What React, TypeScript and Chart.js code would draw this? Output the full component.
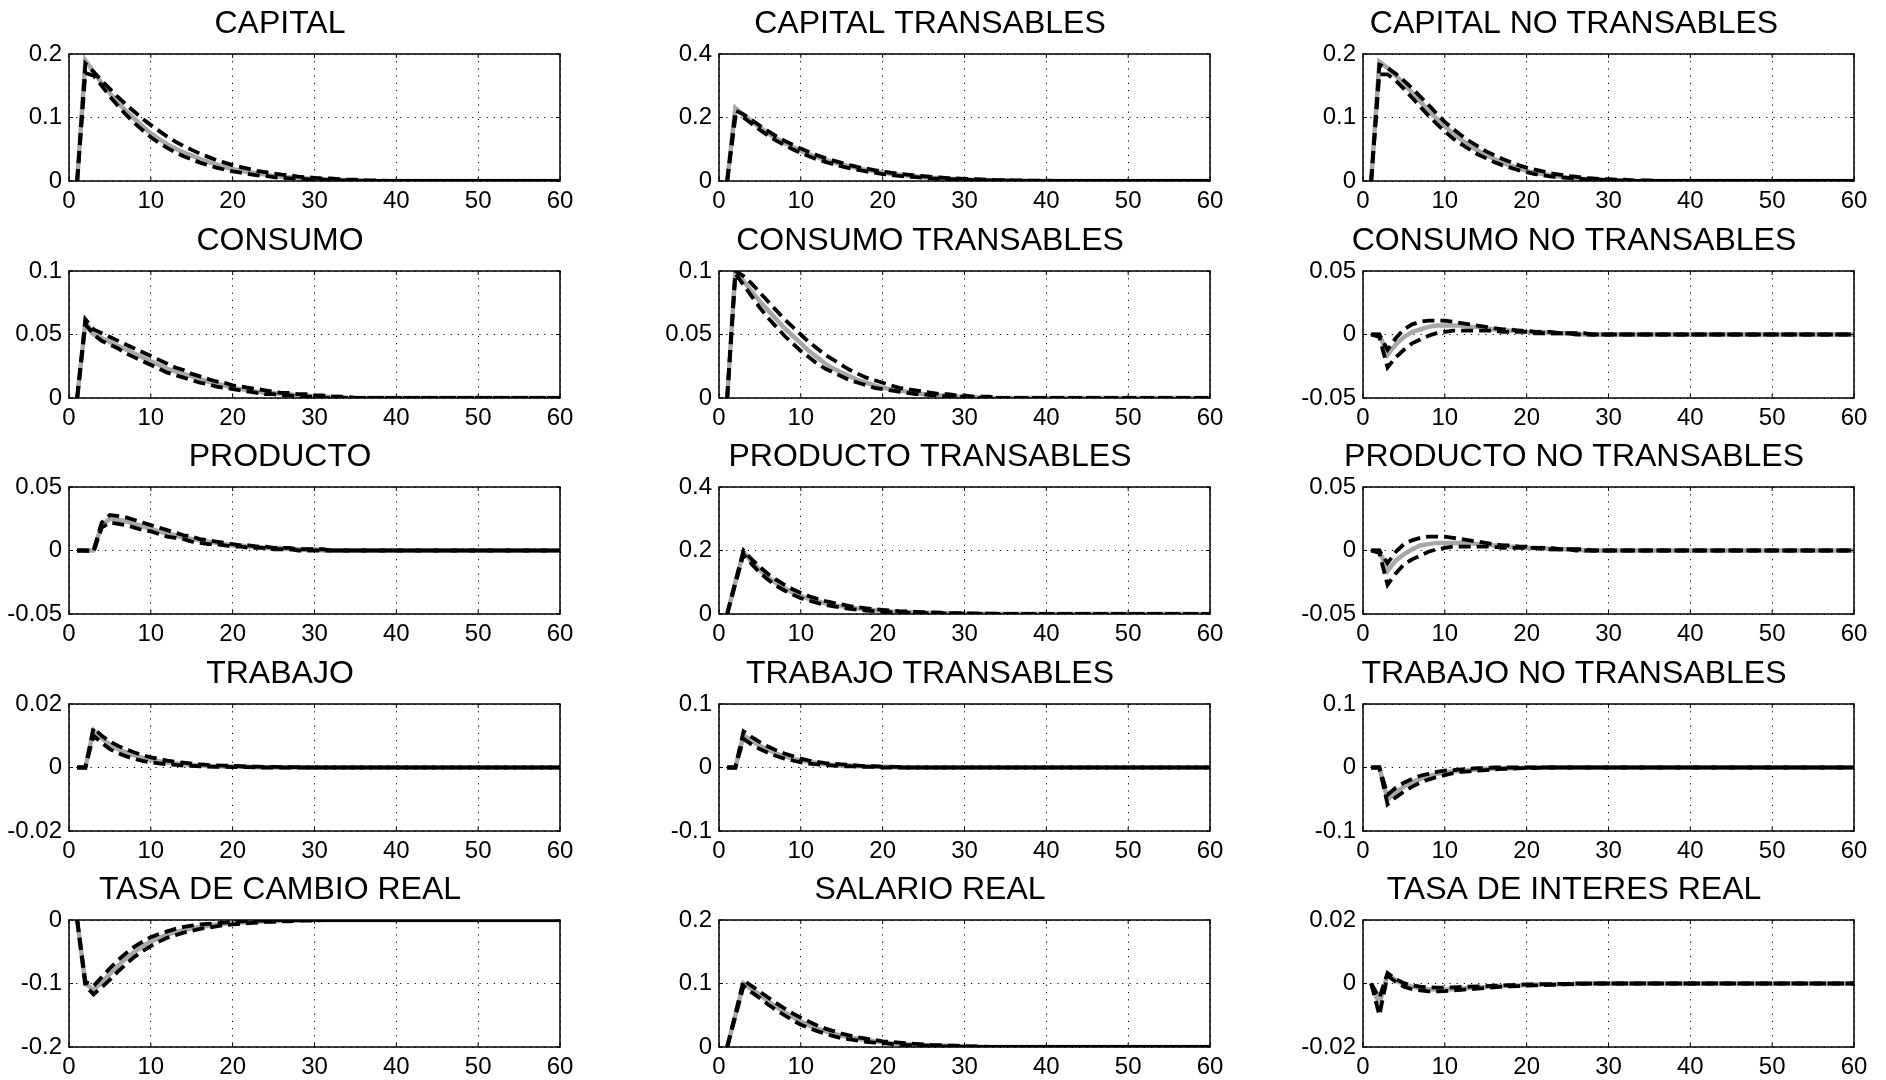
import React, { useEffect, useRef } from "react";
import { Chart, registerables } from "chart.js";

Chart.register(...registerables);

// ---------- DATA ----------
const PERIODS = [
  1, 2, 3, 4, 5, 6, 7, 8, 9, 10,
  11, 12, 13, 14, 15, 16, 17, 18, 19, 20,
  21, 22, 23, 24, 25, 26, 27, 28, 29, 30,
  31, 32, 33, 34, 35, 36, 37, 38, 39, 40,
  41, 42, 43, 44, 45, 46, 47, 48, 49, 50,
  51, 52, 53, 54, 55, 56, 57, 58, 59, 60,
];
const X_TICKS = [0, 10, 20, 30, 40, 50, 60];

// CAPITAL
const CAPITAL_Y = [0, 0.1, 0.2];
const CAPITAL_GRAY = [
  0, 0.190, 0.172, 0.154, 0.138, 0.123, 0.110, 0.098, 0.086, 0.075,
  0.066, 0.058, 0.051, 0.045, 0.040, 0.035, 0.030, 0.026, 0.022, 0.019,
  0.016, 0.014, 0.012, 0.010, 0.008, 0.007, 0.006, 0.005, 0.004, 0.003,
  0.003, 0.002, 0.002, 0.001, 0.001, 0.001, 0, 0, 0, 0,
  0, 0, 0, 0, 0, 0, 0, 0, 0, 0,
  0, 0, 0, 0, 0, 0, 0, 0, 0, 0,
];
const CAPITAL_UP = [
  0, 0.185, 0.172, 0.158, 0.145, 0.132, 0.120, 0.109, 0.098, 0.088,
  0.079, 0.070, 0.062, 0.055, 0.049, 0.043, 0.038, 0.033, 0.029, 0.025,
  0.022, 0.019, 0.016, 0.014, 0.012, 0.010, 0.009, 0.007, 0.006, 0.005,
  0.004, 0.004, 0.003, 0.002, 0.002, 0.001, 0.001, 0.001, 0, 0,
  0, 0, 0, 0, 0, 0, 0, 0, 0, 0,
  0, 0, 0, 0, 0, 0, 0, 0, 0, 0,
];
const CAPITAL_LO = [
  0, 0.170, 0.166, 0.150, 0.133, 0.118, 0.104, 0.091, 0.080, 0.069,
  0.060, 0.052, 0.045, 0.039, 0.034, 0.029, 0.025, 0.021, 0.018, 0.015,
  0.013, 0.011, 0.009, 0.008, 0.006, 0.005, 0.004, 0.004, 0.003, 0.002,
  0.002, 0.001, 0.001, 0.001, 0, 0, 0, 0, 0, 0,
  0, 0, 0, 0, 0, 0, 0, 0, 0, 0,
  0, 0, 0, 0, 0, 0, 0, 0, 0, 0,
];

// CAPITAL TRANSABLES
const CAP_T_Y = [0, 0.2, 0.4];
const CAP_T_GRAY = [
  0, 0.230, 0.208, 0.188, 0.168, 0.150, 0.134, 0.120, 0.107, 0.095,
  0.084, 0.075, 0.066, 0.059, 0.052, 0.046, 0.040, 0.035, 0.031, 0.027,
  0.023, 0.020, 0.017, 0.015, 0.012, 0.010, 0.009, 0.007, 0.006, 0.005,
  0.004, 0.003, 0.003, 0.002, 0.002, 0.001, 0.001, 0.001, 0, 0,
  0, 0, 0, 0, 0, 0, 0, 0, 0, 0,
  0, 0, 0, 0, 0, 0, 0, 0, 0, 0,
];
const CAP_T_UP = [
  0, 0.222, 0.210, 0.192, 0.174, 0.157, 0.141, 0.127, 0.114, 0.102,
  0.091, 0.081, 0.072, 0.064, 0.057, 0.050, 0.044, 0.039, 0.034, 0.030,
  0.026, 0.023, 0.020, 0.017, 0.015, 0.013, 0.011, 0.009, 0.008, 0.007,
  0.006, 0.005, 0.004, 0.003, 0.003, 0.002, 0.002, 0.001, 0.001, 0.001,
  0, 0, 0, 0, 0, 0, 0, 0, 0, 0,
  0, 0, 0, 0, 0, 0, 0, 0, 0, 0,
];
const CAP_T_LO = [
  0, 0.200, 0.200, 0.180, 0.161, 0.143, 0.127, 0.113, 0.100, 0.088,
  0.078, 0.068, 0.060, 0.053, 0.046, 0.040, 0.035, 0.030, 0.026, 0.022,
  0.019, 0.016, 0.014, 0.012, 0.010, 0.008, 0.007, 0.006, 0.005, 0.004,
  0.003, 0.002, 0.002, 0.001, 0.001, 0.001, 0, 0, 0, 0,
  0, 0, 0, 0, 0, 0, 0, 0, 0, 0,
  0, 0, 0, 0, 0, 0, 0, 0, 0, 0,
];

// CAPITAL NO TRANSABLES
const CAP_NT_Y = [0, 0.1, 0.2];
const CAP_NT_GRAY = [
  0, 0.188, 0.178, 0.166, 0.153, 0.139, 0.125, 0.111, 0.098, 0.086,
  0.075, 0.065, 0.056, 0.048, 0.041, 0.035, 0.029, 0.024, 0.020, 0.016,
  0.013, 0.011, 0.009, 0.007, 0.005, 0.004, 0.003, 0.003, 0.002, 0.001,
  0.001, 0.001, 0, 0, 0, 0, 0, 0, 0, 0,
  0, 0, 0, 0, 0, 0, 0, 0, 0, 0,
  0, 0, 0, 0, 0, 0, 0, 0, 0, 0,
];
const CAP_NT_UP = [
  0, 0.183, 0.178, 0.169, 0.158, 0.146, 0.133, 0.120, 0.106, 0.093,
  0.082, 0.072, 0.063, 0.055, 0.047, 0.041, 0.035, 0.030, 0.025, 0.021,
  0.018, 0.015, 0.012, 0.010, 0.008, 0.007, 0.005, 0.004, 0.003, 0.003,
  0.002, 0.002, 0.001, 0.001, 0.001, 0, 0, 0, 0, 0,
  0, 0, 0, 0, 0, 0, 0, 0, 0, 0,
  0, 0, 0, 0, 0, 0, 0, 0, 0, 0,
];
const CAP_NT_LO = [
  0, 0.168, 0.168, 0.158, 0.145, 0.131, 0.117, 0.103, 0.090, 0.078,
  0.067, 0.058, 0.050, 0.042, 0.036, 0.030, 0.025, 0.021, 0.017, 0.014,
  0.011, 0.009, 0.007, 0.006, 0.005, 0.004, 0.003, 0.002, 0.002, 0.001,
  0.001, 0, 0, 0, 0, 0, 0, 0, 0, 0,
  0, 0, 0, 0, 0, 0, 0, 0, 0, 0,
  0, 0, 0, 0, 0, 0, 0, 0, 0, 0,
];

// CONSUMO
const CONS_Y = [0, 0.05, 0.1];
const CONS_GRAY = [
  0, 0.060, 0.050, 0.047, 0.044, 0.041, 0.038, 0.035, 0.032, 0.029,
  0.026, 0.023, 0.021, 0.019, 0.017, 0.015, 0.013, 0.011, 0.010, 0.008,
  0.007, 0.006, 0.005, 0.004, 0.004, 0.003, 0.003, 0.002, 0.002, 0.001,
  0.001, 0.001, 0.001, 0, 0, 0, 0, 0, 0, 0,
  0, 0, 0, 0, 0, 0, 0, 0, 0, 0,
  0, 0, 0, 0, 0, 0, 0, 0, 0, 0,
];
const CONS_UP = [
  0, 0.062, 0.054, 0.051, 0.048, 0.045, 0.042, 0.039, 0.036, 0.033,
  0.030, 0.027, 0.024, 0.022, 0.019, 0.017, 0.015, 0.013, 0.012, 0.010,
  0.009, 0.008, 0.007, 0.006, 0.005, 0.004, 0.004, 0.003, 0.003, 0.002,
  0.002, 0.001, 0.001, 0.001, 0, 0, 0, 0, 0, 0,
  0, 0, 0, 0, 0, 0, 0, 0, 0, 0,
  0, 0, 0, 0, 0, 0, 0, 0, 0, 0,
];
const CONS_LO = [
  0, 0.058, 0.050, 0.045, 0.042, 0.039, 0.035, 0.032, 0.029, 0.026,
  0.023, 0.020, 0.018, 0.016, 0.014, 0.012, 0.011, 0.009, 0.008, 0.007,
  0.006, 0.005, 0.004, 0.003, 0.003, 0.002, 0.002, 0.001, 0.001, 0.001,
  0, 0, 0, 0, 0, 0, 0, 0, 0, 0,
  0, 0, 0, 0, 0, 0, 0, 0, 0, 0,
  0, 0, 0, 0, 0, 0, 0, 0, 0, 0,
];

// CONSUMO TRANSABLES
const CONS_T_Y = [0, 0.05, 0.1];
const CONS_T_GRAY = [
  0, 0.100, 0.092, 0.084, 0.076, 0.069, 0.062, 0.055, 0.049, 0.043,
  0.037, 0.032, 0.027, 0.023, 0.020, 0.017, 0.014, 0.012, 0.010, 0.008,
  0.007, 0.006, 0.005, 0.004, 0.003, 0.003, 0.002, 0.002, 0.001, 0.001,
  0.001, 0, 0, 0, 0, 0, 0, 0, 0, 0,
  0, 0, 0, 0, 0, 0, 0, 0, 0, 0,
  0, 0, 0, 0, 0, 0, 0, 0, 0, 0,
];
const CONS_T_UP = [
  0, 0.100, 0.096, 0.090, 0.083, 0.076, 0.069, 0.062, 0.056, 0.050,
  0.044, 0.039, 0.034, 0.030, 0.026, 0.022, 0.019, 0.016, 0.014, 0.012,
  0.010, 0.008, 0.007, 0.006, 0.005, 0.004, 0.003, 0.003, 0.002, 0.002,
  0.001, 0.001, 0.001, 0, 0, 0, 0, 0, 0, 0,
  0, 0, 0, 0, 0, 0, 0, 0, 0, 0,
  0, 0, 0, 0, 0, 0, 0, 0, 0, 0,
];
const CONS_T_LO = [
  0, 0.098, 0.089, 0.080, 0.071, 0.063, 0.056, 0.049, 0.043, 0.037,
  0.032, 0.027, 0.023, 0.020, 0.017, 0.014, 0.012, 0.010, 0.008, 0.007,
  0.006, 0.005, 0.004, 0.003, 0.003, 0.002, 0.002, 0.001, 0.001, 0.001,
  0, 0, 0, 0, 0, 0, 0, 0, 0, 0,
  0, 0, 0, 0, 0, 0, 0, 0, 0, 0,
  0, 0, 0, 0, 0, 0, 0, 0, 0, 0,
];

// CONSUMO NO TRANSABLES
const CONS_NT_Y = [-0.05, 0, 0.05];
const CONS_NT_GRAY = [
  0, 0, -0.016, -0.008, -0.002, 0.002, 0.004, 0.006, 0.007, 0.007,
  0.007, 0.007, 0.006, 0.006, 0.005, 0.004, 0.004, 0.003, 0.003, 0.002,
  0.002, 0.002, 0.001, 0.001, 0.001, 0.001, 0, 0, 0, 0,
  0, 0, 0, 0, 0, 0, 0, 0, 0, 0,
  0, 0, 0, 0, 0, 0, 0, 0, 0, 0,
  0, 0, 0, 0, 0, 0, 0, 0, 0, 0,
];
const CONS_NT_UP = [
  0, 0, -0.012, -0.003, 0.004, 0.008, 0.010, 0.011, 0.011, 0.011,
  0.010, 0.009, 0.008, 0.007, 0.006, 0.005, 0.004, 0.004, 0.003, 0.003,
  0.002, 0.002, 0.002, 0.001, 0.001, 0.001, 0.001, 0, 0, 0,
  0, 0, 0, 0, 0, 0, 0, 0, 0, 0,
  0, 0, 0, 0, 0, 0, 0, 0, 0, 0,
  0, 0, 0, 0, 0, 0, 0, 0, 0, 0,
];
const CONS_NT_LO = [
  0, -0.002, -0.026, -0.018, -0.012, -0.007, -0.004, -0.001, 0.001, 0.002,
  0.003, 0.003, 0.003, 0.003, 0.003, 0.003, 0.002, 0.002, 0.002, 0.002,
  0.001, 0.001, 0.001, 0.001, 0.001, 0, 0, 0, 0, 0,
  0, 0, 0, 0, 0, 0, 0, 0, 0, 0,
  0, 0, 0, 0, 0, 0, 0, 0, 0, 0,
  0, 0, 0, 0, 0, 0, 0, 0, 0, 0,
];

// PRODUCTO
const PROD_Y = [-0.05, 0, 0.05];
const PROD_GRAY = [
  0, 0, 0, 0.020, 0.025, 0.024, 0.023, 0.021, 0.019, 0.017,
  0.015, 0.013, 0.012, 0.010, 0.009, 0.008, 0.007, 0.006, 0.005, 0.004,
  0.004, 0.003, 0.003, 0.002, 0.002, 0.002, 0.001, 0.001, 0.001, 0.001,
  0, 0, 0, 0, 0, 0, 0, 0, 0, 0,
  0, 0, 0, 0, 0, 0, 0, 0, 0, 0,
  0, 0, 0, 0, 0, 0, 0, 0, 0, 0,
];
const PROD_UP = [
  0, 0, 0, 0.022, 0.028, 0.027, 0.026, 0.024, 0.022, 0.020,
  0.018, 0.016, 0.014, 0.012, 0.011, 0.009, 0.008, 0.007, 0.006, 0.005,
  0.004, 0.004, 0.003, 0.003, 0.002, 0.002, 0.002, 0.001, 0.001, 0.001,
  0.001, 0, 0, 0, 0, 0, 0, 0, 0, 0,
  0, 0, 0, 0, 0, 0, 0, 0, 0, 0,
  0, 0, 0, 0, 0, 0, 0, 0, 0, 0,
];
const PROD_LO = [
  0, 0, -0.001, 0.018, 0.022, 0.021, 0.020, 0.018, 0.016, 0.015,
  0.013, 0.011, 0.010, 0.009, 0.007, 0.006, 0.005, 0.005, 0.004, 0.003,
  0.003, 0.002, 0.002, 0.002, 0.001, 0.001, 0.001, 0, 0, 0,
  0, 0, 0, 0, 0, 0, 0, 0, 0, 0,
  0, 0, 0, 0, 0, 0, 0, 0, 0, 0,
  0, 0, 0, 0, 0, 0, 0, 0, 0, 0,
];

// PRODUCTO TRANSABLES
const PROD_T_Y = [0, 0.2, 0.4];
const PROD_T_GRAY = [
  0, 0.100, 0.195, 0.164, 0.138, 0.115, 0.097, 0.081, 0.068, 0.057,
  0.048, 0.040, 0.034, 0.028, 0.024, 0.020, 0.017, 0.014, 0.012, 0.010,
  0.008, 0.007, 0.006, 0.005, 0.004, 0.003, 0.003, 0.002, 0.002, 0.001,
  0.001, 0.001, 0, 0, 0, 0, 0, 0, 0, 0,
  0, 0, 0, 0, 0, 0, 0, 0, 0, 0,
  0, 0, 0, 0, 0, 0, 0, 0, 0, 0,
];
const PROD_T_UP = [
  0, 0.102, 0.200, 0.172, 0.148, 0.126, 0.108, 0.092, 0.078, 0.066,
  0.056, 0.048, 0.041, 0.035, 0.030, 0.025, 0.021, 0.018, 0.015, 0.013,
  0.011, 0.009, 0.008, 0.007, 0.006, 0.005, 0.004, 0.003, 0.003, 0.002,
  0.002, 0.001, 0.001, 0.001, 0, 0, 0, 0, 0, 0,
  0, 0, 0, 0, 0, 0, 0, 0, 0, 0,
  0, 0, 0, 0, 0, 0, 0, 0, 0, 0,
];
const PROD_T_LO = [
  0, 0.095, 0.188, 0.157, 0.130, 0.108, 0.089, 0.074, 0.061, 0.050,
  0.042, 0.035, 0.029, 0.024, 0.020, 0.016, 0.013, 0.011, 0.009, 0.007,
  0.006, 0.005, 0.004, 0.003, 0.003, 0.002, 0.002, 0.001, 0.001, 0.001,
  0, 0, 0, 0, 0, 0, 0, 0, 0, 0,
  0, 0, 0, 0, 0, 0, 0, 0, 0, 0,
  0, 0, 0, 0, 0, 0, 0, 0, 0, 0,
];

// PRODUCTO NO TRANSABLES
const PROD_NT_Y = [-0.05, 0, 0.05];
const PROD_NT_GRAY = [
  0, 0, -0.016, -0.008, -0.003, 0.001, 0.004, 0.005, 0.006, 0.006,
  0.006, 0.006, 0.006, 0.005, 0.005, 0.004, 0.004, 0.003, 0.003, 0.002,
  0.002, 0.002, 0.001, 0.001, 0.001, 0.001, 0, 0, 0, 0,
  0, 0, 0, 0, 0, 0, 0, 0, 0, 0,
  0, 0, 0, 0, 0, 0, 0, 0, 0, 0,
  0, 0, 0, 0, 0, 0, 0, 0, 0, 0,
];
const PROD_NT_UP = [
  0, 0, -0.010, -0.001, 0.005, 0.008, 0.010, 0.011, 0.011, 0.011,
  0.010, 0.009, 0.008, 0.007, 0.006, 0.005, 0.004, 0.004, 0.003, 0.003,
  0.002, 0.002, 0.002, 0.001, 0.001, 0.001, 0.001, 0, 0, 0,
  0, 0, 0, 0, 0, 0, 0, 0, 0, 0,
  0, 0, 0, 0, 0, 0, 0, 0, 0, 0,
  0, 0, 0, 0, 0, 0, 0, 0, 0, 0,
];
const PROD_NT_LO = [
  0, -0.002, -0.027, -0.018, -0.011, -0.007, -0.004, -0.001, 0.001, 0.002,
  0.003, 0.003, 0.003, 0.003, 0.003, 0.003, 0.002, 0.002, 0.002, 0.002,
  0.002, 0.001, 0.001, 0.001, 0.001, 0, 0, 0, 0, 0,
  0, 0, 0, 0, 0, 0, 0, 0, 0, 0,
  0, 0, 0, 0, 0, 0, 0, 0, 0, 0,
  0, 0, 0, 0, 0, 0, 0, 0, 0, 0,
];

// TRABAJO
const TRAB_Y = [-0.02, 0, 0.02];
const TRAB_GRAY = [
  0, 0, 0.0117, 0.0092, 0.0072, 0.0058, 0.0047, 0.0038, 0.0030, 0.0024,
  0.0020, 0.0016, 0.0013, 0.0010, 0.0008, 0.0007, 0.0005, 0.0004, 0.0003, 0.0003,
  0.0002, 0.0002, 0.0001, 0.0001, 0.0001, 0, 0, 0, 0, 0,
  0, 0, 0, 0, 0, 0, 0, 0, 0, 0,
  0, 0, 0, 0, 0, 0, 0, 0, 0, 0,
  0, 0, 0, 0, 0, 0, 0, 0, 0, 0,
];
const TRAB_UP = [
  0, 0, 0.0125, 0.0100, 0.0082, 0.0068, 0.0057, 0.0047, 0.0039, 0.0032,
  0.0027, 0.0022, 0.0018, 0.0015, 0.0012, 0.0010, 0.0008, 0.0007, 0.0006, 0.0005,
  0.0004, 0.0003, 0.0003, 0.0002, 0.0002, 0.0001, 0.0001, 0.0001, 0, 0,
  0, 0, 0, 0, 0, 0, 0, 0, 0, 0,
  0, 0, 0, 0, 0, 0, 0, 0, 0, 0,
  0, 0, 0, 0, 0, 0, 0, 0, 0, 0,
];
const TRAB_LO = [
  0, 0, 0.0100, 0.0078, 0.0058, 0.0045, 0.0035, 0.0027, 0.0021, 0.0016,
  0.0013, 0.0010, 0.0008, 0.0006, 0.0005, 0.0004, 0.0003, 0.0002, 0.0002, 0.0001,
  0.0001, 0.0001, 0, 0, 0, 0, 0, 0, 0, 0,
  0, 0, 0, 0, 0, 0, 0, 0, 0, 0,
  0, 0, 0, 0, 0, 0, 0, 0, 0, 0,
  0, 0, 0, 0, 0, 0, 0, 0, 0, 0,
];

// TRABAJO TRANSABLES
const TRAB_T_Y = [-0.1, 0, 0.1];
const TRAB_T_GRAY = [
  0, 0, 0.051, 0.042, 0.034, 0.028, 0.022, 0.018, 0.014, 0.011,
  0.009, 0.007, 0.005, 0.004, 0.003, 0.003, 0.002, 0.002, 0.001, 0.001,
  0.001, 0, 0, 0, 0, 0, 0, 0, 0, 0,
  0, 0, 0, 0, 0, 0, 0, 0, 0, 0,
  0, 0, 0, 0, 0, 0, 0, 0, 0, 0,
  0, 0, 0, 0, 0, 0, 0, 0, 0, 0,
];
const TRAB_T_UP = [
  0, 0, 0.057, 0.048, 0.040, 0.033, 0.027, 0.022, 0.018, 0.014,
  0.011, 0.009, 0.007, 0.006, 0.005, 0.004, 0.003, 0.002, 0.002, 0.001,
  0.001, 0.001, 0, 0, 0, 0, 0, 0, 0, 0,
  0, 0, 0, 0, 0, 0, 0, 0, 0, 0,
  0, 0, 0, 0, 0, 0, 0, 0, 0, 0,
  0, 0, 0, 0, 0, 0, 0, 0, 0, 0,
];
const TRAB_T_LO = [
  0, 0, 0.045, 0.036, 0.029, 0.023, 0.018, 0.014, 0.011, 0.008,
  0.006, 0.005, 0.004, 0.003, 0.002, 0.002, 0.001, 0.001, 0.001, 0,
  0, 0, 0, 0, 0, 0, 0, 0, 0, 0,
  0, 0, 0, 0, 0, 0, 0, 0, 0, 0,
  0, 0, 0, 0, 0, 0, 0, 0, 0, 0,
  0, 0, 0, 0, 0, 0, 0, 0, 0, 0,
];

// TRABAJO NO TRANSABLES
const TRAB_NT_Y = [-0.1, 0, 0.1];
const TRAB_NT_GRAY = [
  0, 0, -0.050, -0.039, -0.030, -0.023, -0.018, -0.014, -0.010, -0.008,
  -0.006, -0.005, -0.004, -0.003, -0.002, -0.002, -0.001, -0.001, -0.001, 0,
  0, 0, 0, 0, 0, 0, 0, 0, 0, 0,
  0, 0, 0, 0, 0, 0, 0, 0, 0, 0,
  0, 0, 0, 0, 0, 0, 0, 0, 0, 0,
  0, 0, 0, 0, 0, 0, 0, 0, 0, 0,
];
const TRAB_NT_UP = [
  0, 0, -0.043, -0.032, -0.024, -0.018, -0.013, -0.010, -0.007, -0.005,
  -0.004, -0.003, -0.002, -0.001, -0.001, 0, 0, 0, 0, 0,
  0, 0, 0, 0, 0, 0, 0, 0, 0, 0,
  0, 0, 0, 0, 0, 0, 0, 0, 0, 0,
  0, 0, 0, 0, 0, 0, 0, 0, 0, 0,
  0, 0, 0, 0, 0, 0, 0, 0, 0, 0,
];
const TRAB_NT_LO = [
  0, 0, -0.058, -0.047, -0.038, -0.030, -0.024, -0.019, -0.015, -0.012,
  -0.009, -0.007, -0.006, -0.005, -0.004, -0.003, -0.002, -0.002, -0.001, -0.001,
  -0.001, 0, 0, 0, 0, 0, 0, 0, 0, 0,
  0, 0, 0, 0, 0, 0, 0, 0, 0, 0,
  0, 0, 0, 0, 0, 0, 0, 0, 0, 0,
  0, 0, 0, 0, 0, 0, 0, 0, 0, 0,
];

// TASA DE CAMBIO REAL
const TCR_Y = [-0.2, -0.1, 0];
const TCR_GRAY = [
  0, -0.100, -0.110, -0.098, -0.085, -0.072, -0.060, -0.050, -0.041, -0.034,
  -0.028, -0.023, -0.019, -0.016, -0.013, -0.011, -0.009, -0.007, -0.006, -0.005,
  -0.004, -0.003, -0.003, -0.002, -0.002, -0.001, -0.001, -0.001, 0, 0,
  0, 0, 0, 0, 0, 0, 0, 0, 0, 0,
  0, 0, 0, 0, 0, 0, 0, 0, 0, 0,
  0, 0, 0, 0, 0, 0, 0, 0, 0, 0,
];
const TCR_UP = [
  0, -0.097, -0.104, -0.090, -0.076, -0.063, -0.052, -0.042, -0.034, -0.027,
  -0.022, -0.018, -0.014, -0.011, -0.009, -0.007, -0.006, -0.005, -0.004, -0.003,
  -0.002, -0.002, -0.001, -0.001, 0, 0, 0, 0, 0, 0,
  0, 0, 0, 0, 0, 0, 0, 0, 0, 0,
  0, 0, 0, 0, 0, 0, 0, 0, 0, 0,
  0, 0, 0, 0, 0, 0, 0, 0, 0, 0,
];
const TCR_LO = [
  0, -0.104, -0.117, -0.106, -0.094, -0.081, -0.069, -0.058, -0.049, -0.041,
  -0.034, -0.028, -0.024, -0.020, -0.017, -0.014, -0.012, -0.010, -0.008, -0.007,
  -0.006, -0.005, -0.004, -0.003, -0.003, -0.002, -0.002, -0.001, -0.001, -0.001,
  0, 0, 0, 0, 0, 0, 0, 0, 0, 0,
  0, 0, 0, 0, 0, 0, 0, 0, 0, 0,
  0, 0, 0, 0, 0, 0, 0, 0, 0, 0,
];

// SALARIO REAL
const SAL_Y = [0, 0.1, 0.2];
const SAL_GRAY = [
  0, 0.050, 0.100, 0.091, 0.082, 0.072, 0.063, 0.055, 0.047, 0.040,
  0.034, 0.029, 0.025, 0.021, 0.018, 0.015, 0.013, 0.011, 0.009, 0.008,
  0.006, 0.005, 0.004, 0.004, 0.003, 0.002, 0.002, 0.002, 0.001, 0.001,
  0.001, 0, 0, 0, 0, 0, 0, 0, 0, 0,
  0, 0, 0, 0, 0, 0, 0, 0, 0, 0,
  0, 0, 0, 0, 0, 0, 0, 0, 0, 0,
];
const SAL_UP = [
  0, 0.052, 0.105, 0.096, 0.087, 0.078, 0.069, 0.061, 0.053, 0.046,
  0.040, 0.034, 0.029, 0.025, 0.021, 0.018, 0.015, 0.013, 0.011, 0.009,
  0.008, 0.007, 0.006, 0.005, 0.004, 0.003, 0.003, 0.002, 0.002, 0.001,
  0.001, 0.001, 0, 0, 0, 0, 0, 0, 0, 0,
  0, 0, 0, 0, 0, 0, 0, 0, 0, 0,
  0, 0, 0, 0, 0, 0, 0, 0, 0, 0,
];
const SAL_LO = [
  0, 0.048, 0.096, 0.086, 0.077, 0.067, 0.058, 0.050, 0.042, 0.035,
  0.030, 0.025, 0.021, 0.017, 0.014, 0.012, 0.010, 0.008, 0.007, 0.006,
  0.005, 0.004, 0.003, 0.003, 0.002, 0.002, 0.001, 0.001, 0.001, 0,
  0, 0, 0, 0, 0, 0, 0, 0, 0, 0,
  0, 0, 0, 0, 0, 0, 0, 0, 0, 0,
  0, 0, 0, 0, 0, 0, 0, 0, 0, 0,
];

// TASA DE INTERES REAL
const TIR_Y = [-0.02, 0, 0.02];
const TIR_GRAY = [
  0, -0.0065, 0.0030, 0.0010, -0.0003, -0.0010, -0.0015, -0.0018, -0.0019, -0.0019,
  -0.0018, -0.0016, -0.0014, -0.0012, -0.0011, -0.0009, -0.0008, -0.0007, -0.0006, -0.0005,
  -0.0004, -0.0003, -0.0003, -0.0002, -0.0002, -0.0001, -0.0001, 0, 0, 0,
  0, 0, 0, 0, 0, 0, 0, 0, 0, 0,
  0, 0, 0, 0, 0, 0, 0, 0, 0, 0,
  0, 0, 0, 0, 0, 0, 0, 0, 0, 0,
];
const TIR_UP = [
  0, -0.0045, 0.0033, 0.0014, 0.0001, -0.0006, -0.0010, -0.0012, -0.0013, -0.0013,
  -0.0012, -0.0011, -0.0010, -0.0009, -0.0008, -0.0007, -0.0006, -0.0005, -0.0004, -0.0003,
  -0.0003, -0.0002, -0.0002, -0.0001, -0.0001, 0, 0, 0, 0, 0,
  0, 0, 0, 0, 0, 0, 0, 0, 0, 0,
  0, 0, 0, 0, 0, 0, 0, 0, 0, 0,
  0, 0, 0, 0, 0, 0, 0, 0, 0, 0,
];
const TIR_LO = [
  0, -0.0100, 0.0025, 0.0005, -0.0010, -0.0018, -0.0022, -0.0025, -0.0025, -0.0024,
  -0.0022, -0.0020, -0.0018, -0.0016, -0.0014, -0.0012, -0.0010, -0.0009, -0.0008, -0.0007,
  -0.0006, -0.0005, -0.0004, -0.0003, -0.0002, -0.0002, -0.0001, 0, 0, 0,
  0, 0, 0, 0, 0, 0, 0, 0, 0, 0,
  0, 0, 0, 0, 0, 0, 0, 0, 0, 0,
  0, 0, 0, 0, 0, 0, 0, 0, 0, 0,
];

const PANELS = [
  { title: "CAPITAL", yTicks: CAPITAL_Y, gray: CAPITAL_GRAY, up: CAPITAL_UP, lo: CAPITAL_LO },
  { title: "CAPITAL TRANSABLES", yTicks: CAP_T_Y, gray: CAP_T_GRAY, up: CAP_T_UP, lo: CAP_T_LO },
  { title: "CAPITAL NO TRANSABLES", yTicks: CAP_NT_Y, gray: CAP_NT_GRAY, up: CAP_NT_UP, lo: CAP_NT_LO },
  { title: "CONSUMO", yTicks: CONS_Y, gray: CONS_GRAY, up: CONS_UP, lo: CONS_LO },
  { title: "CONSUMO TRANSABLES", yTicks: CONS_T_Y, gray: CONS_T_GRAY, up: CONS_T_UP, lo: CONS_T_LO },
  { title: "CONSUMO NO TRANSABLES", yTicks: CONS_NT_Y, gray: CONS_NT_GRAY, up: CONS_NT_UP, lo: CONS_NT_LO },
  { title: "PRODUCTO", yTicks: PROD_Y, gray: PROD_GRAY, up: PROD_UP, lo: PROD_LO },
  { title: "PRODUCTO TRANSABLES", yTicks: PROD_T_Y, gray: PROD_T_GRAY, up: PROD_T_UP, lo: PROD_T_LO },
  { title: "PRODUCTO NO TRANSABLES", yTicks: PROD_NT_Y, gray: PROD_NT_GRAY, up: PROD_NT_UP, lo: PROD_NT_LO },
  { title: "TRABAJO", yTicks: TRAB_Y, gray: TRAB_GRAY, up: TRAB_UP, lo: TRAB_LO },
  { title: "TRABAJO TRANSABLES", yTicks: TRAB_T_Y, gray: TRAB_T_GRAY, up: TRAB_T_UP, lo: TRAB_T_LO },
  { title: "TRABAJO NO TRANSABLES", yTicks: TRAB_NT_Y, gray: TRAB_NT_GRAY, up: TRAB_NT_UP, lo: TRAB_NT_LO },
  { title: "TASA DE CAMBIO REAL", yTicks: TCR_Y, gray: TCR_GRAY, up: TCR_UP, lo: TCR_LO },
  { title: "SALARIO REAL", yTicks: SAL_Y, gray: SAL_GRAY, up: SAL_UP, lo: SAL_LO },
  { title: "TASA DE INTERES REAL", yTicks: TIR_Y, gray: TIR_GRAY, up: TIR_UP, lo: TIR_LO },
];

// ---------- LAYOUT / STYLE ----------
const PLOT_LEFT = [69, 719, 1363];
const PLOT_TOP = [54, 271, 487, 704, 920];
const PLOT_W = 491;
const PLOT_H = 127;
const M_LEFT = 69;
const M_RIGHT = 69;
const M_TOP = 54;
const M_BOTTOM = 36;
const CANVAS_W = M_LEFT + PLOT_W + M_RIGHT;
const CANVAS_H = M_TOP + PLOT_H + M_BOTTOM;

const TITLE_SIZE = 32;
const TITLE_PAD_TOP = 5;
const TICK_SIZE = 24;
const TITLE_FONT = "'Liberation Sans', Arial, Helvetica, sans-serif";
const TICK_FONT = "'Liberation Sans', Arial, sans-serif";
const GRAY = "#a8a8a8";

const boxPlugin = {
  id: "matlabBox",
  afterDatasetsDraw(chart: any) {
    const { ctx, chartArea: a, scales } = chart;
    ctx.save();
    ctx.setLineDash([]);
    ctx.strokeStyle = "#000";
    ctx.lineWidth = 1.5;
    ctx.strokeRect(a.left, a.top, a.right - a.left, a.bottom - a.top);
    ctx.lineWidth = 1;
    ctx.beginPath();
    const tl = 4;
    scales.x.ticks.forEach((t: any) => {
      const px = scales.x.getPixelForValue(t.value);
      ctx.moveTo(px, a.bottom);
      ctx.lineTo(px, a.bottom - tl);
      ctx.moveTo(px, a.top);
      ctx.lineTo(px, a.top + tl);
    });
    scales.y.ticks.forEach((t: any) => {
      const py = scales.y.getPixelForValue(t.value);
      ctx.moveTo(a.left, py);
      ctx.lineTo(a.left + tl, py);
      ctx.moveTo(a.right, py);
      ctx.lineTo(a.right - tl, py);
    });
    ctx.stroke();
    ctx.restore();
  },
};

function toPoints(values: number[]) {
  return values.map((v, i) => ({ x: PERIODS[i], y: v }));
}

function Panel({ spec, index }: { spec: any; index: number }) {
  const ref = useRef<HTMLCanvasElement | null>(null);
  const col = index % 3;
  const row = Math.floor(index / 3);

  useEffect(() => {
    if (!ref.current) return;
    const yTicks: number[] = spec.yTicks;
    const dashed = {
      borderColor: "#000",
      borderWidth: 3.8,
      borderDash: [12, 6],
      pointRadius: 0,
      tension: 0,
      order: 0,
    };
    const chart = new Chart(ref.current, {
      type: "line",
      data: {
        datasets: [
          { label: "upper", data: toPoints(spec.up), ...dashed },
          { label: "lower", data: toPoints(spec.lo), ...dashed },
          {
            label: "mean",
            data: toPoints(spec.gray),
            borderColor: GRAY,
            borderWidth: 4.5,
            pointRadius: 0,
            tension: 0,
            order: 1,
          },
        ],
      },
      options: {
        responsive: false,
        animation: false,
        events: [],
        layout: {
          autoPadding: false,
          padding: { left: 0, right: M_RIGHT, top: 0, bottom: 0 },
        },
        plugins: {
          legend: { display: false },
          tooltip: { enabled: false },
          title: {
            display: true,
            text: spec.title,
            color: "#000",
            font: { family: TITLE_FONT, size: TITLE_SIZE, weight: "normal", lineHeight: 1.2 },
            padding: { top: TITLE_PAD_TOP, bottom: M_TOP - TITLE_PAD_TOP - TITLE_SIZE * 1.2 },
          },
        },
        scales: {
          x: {
            type: "linear",
            min: 0,
            max: 60,
            afterBuildTicks: (s: any) => {
              s.ticks = X_TICKS.map((v) => ({ value: v }));
            },
            afterFit: (s: any) => {
              s.height = M_BOTTOM;
            },
            ticks: {
              color: "#000",
              font: { family: TICK_FONT, size: TICK_SIZE },
              padding: 6,
              maxRotation: 0,
              autoSkip: false,
              callback: (v: any) => String(v),
            },
            grid: { color: "#000", lineWidth: 1, drawTicks: false },
            border: { display: false, dash: [1.2, 6] },
          },
          y: {
            type: "linear",
            min: yTicks[0],
            max: yTicks[yTicks.length - 1],
            afterBuildTicks: (s: any) => {
              s.ticks = yTicks.map((v) => ({ value: v }));
            },
            afterFit: (s: any) => {
              s.width = M_LEFT;
            },
            ticks: {
              color: "#000",
              font: { family: TICK_FONT, size: TICK_SIZE },
              padding: 7,
              autoSkip: false,
              callback: (v: any) => String(v),
            },
            grid: { color: "#000", lineWidth: 1, drawTicks: false },
            border: { display: false, dash: [1.2, 6] },
          },
        },
      },
      plugins: [boxPlugin],
    } as any);
    return () => chart.destroy();
  }, [spec]);

  return (
    <canvas
      ref={ref}
      width={CANVAS_W}
      height={CANVAS_H}
      style={{
        position: "absolute",
        left: PLOT_LEFT[col] - M_LEFT,
        top: PLOT_TOP[row] - M_TOP,
        width: CANVAS_W,
        height: CANVAS_H,
      }}
    />
  );
}

export default function App() {
  return (
    <div
      style={{
        position: "absolute",
        left: 0,
        top: 0,
        width: 1886,
        height: 1080,
        background: "#fff",
        overflow: "hidden",
      }}
    >
      {PANELS.map((p, i) => (
        <Panel key={p.title} spec={p} index={i} />
      ))}
    </div>
  );
}
